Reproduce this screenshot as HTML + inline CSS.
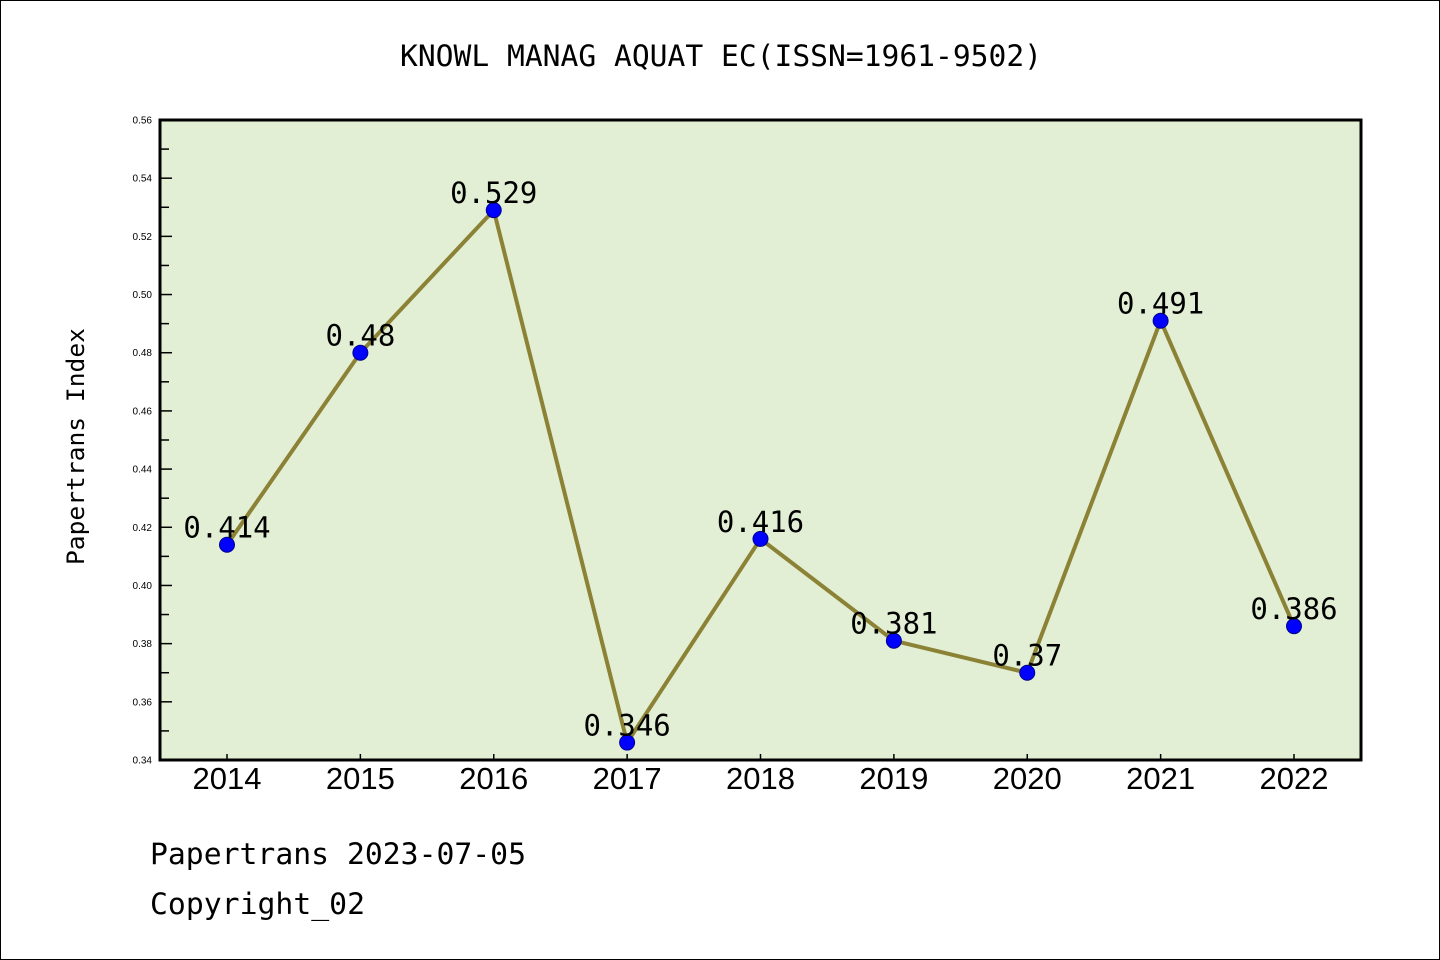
<!DOCTYPE html>
<html><head><meta charset="utf-8"><style>
html,body{margin:0;padding:0;background:#fff}
svg{display:block}
.m{font-family:"DejaVu Sans Mono","Liberation Mono",monospace}
.s{font-family:"Liberation Sans",sans-serif}
</style></head><body>
<svg id="chart" width="1440" height="960" viewBox="0 0 1440 960">
<rect x="0.5" y="0.5" width="1439" height="959" fill="#fff" stroke="#000" stroke-width="1"/>
<text x="400" y="66" class="m" font-size="29" textLength="642" lengthAdjust="spacingAndGlyphs">KNOWL MANAG AQUAT EC(ISSN=1961-9502)</text>
<rect x="160" y="120" width="1201" height="640" fill="#e2efd4"/>
<g id="axes"></g>
<g id="series"></g>
<rect x="160" y="120" width="1201" height="640" fill="none" stroke="#000" stroke-width="3"/>
<text transform="translate(84,565) rotate(-90)" class="m" font-size="24" textLength="237" lengthAdjust="spacingAndGlyphs">Papertrans Index</text>
<text x="150" y="864" class="m" font-size="29" textLength="376" lengthAdjust="spacingAndGlyphs">Papertrans 2023-07-05</text>
<text x="150" y="914" class="m" font-size="29" textLength="215" lengthAdjust="spacingAndGlyphs">Copyright_02</text>
</svg>
<script>
const years = ["2014","2015","2016","2017","2018","2019","2020","2021","2022"];
const values = [0.414,0.48,0.529,0.346,0.416,0.381,0.37,0.491,0.386];
const valueLabels = ["0.414","0.48","0.529","0.346","0.416","0.381","0.37","0.491","0.386"];
const yTicks = [0.34,0.36,0.38,0.40,0.42,0.44,0.46,0.48,0.50,0.52,0.54,0.56];
const NS="http://www.w3.org/2000/svg";
const yMin=0.34,yMax=0.56,plotTop=120,plotBot=760;
function yS(v){return plotBot-(v-yMin)/(yMax-yMin)*(plotBot-plotTop);}
function xS(i){return 227+i*(1294-227)/(years.length-1);}
function mk(t,a,p){const e=document.createElementNS(NS,t);for(const k in a)e.setAttribute(k,a[k]);p.appendChild(e);return e;}
const ax=document.getElementById('axes'),se=document.getElementById('series');
yTicks.forEach((v,i)=>{
 const y=yS(v);
 const t=mk('line',{x1:160,x2:172,y1:y,y2:y,stroke:'#000','stroke-width':1.5},ax);
 
 
 const l=mk('text',{x:152,y:y+3.5,'text-anchor':'end','font-size':10,class:'s'},ax);
 l.textContent=v.toFixed(2);
 
 
 if(i<yTicks.length-1){
  const ym=yS(v+0.01);
  const mt=mk('line',{x1:160,x2:169,y1:ym,y2:ym,stroke:'#000','stroke-width':1.5},ax);
  
  
 }
});
years.forEach((yr,i)=>{
 const x=xS(i);
 const t=mk('line',{x1:x,x2:x,y1:760,y2:754,stroke:'#000','stroke-width':1.5},ax);
 
 
 const l=mk('text',{x:x,y:789,'text-anchor':'middle','font-size':31,class:'s'},ax);
 l.textContent=yr;
 
 
});
const pts=values.map((v,i)=>xS(i)+','+yS(v)).join(' ');
const line=mk('polyline',{points:pts,fill:'none',stroke:'#8b8236','stroke-width':4,'stroke-linejoin':'round'},se);


values.forEach((v,i)=>{
 const c=mk('circle',{cx:xS(i),cy:yS(v),r:7.5,fill:'#0000ff',stroke:'#00008b','stroke-width':1},se);
 
 
 const l=mk('text',{x:xS(i),y:yS(v)-7,'text-anchor':'middle','font-size':29,class:'m'},se);
 l.textContent=valueLabels[i];
 
 
});
</script>
</body></html>
